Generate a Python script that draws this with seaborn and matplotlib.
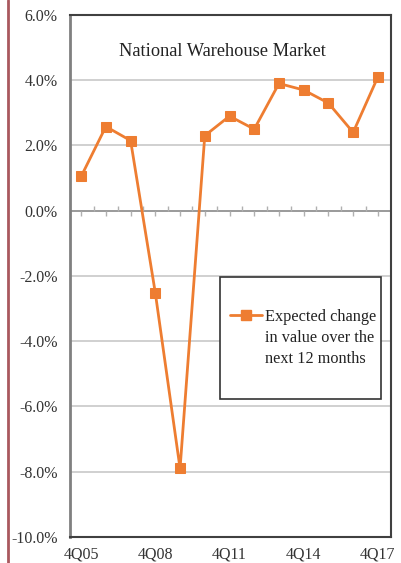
import numpy as np
import pandas as pd
import matplotlib
matplotlib.use("Agg")
import matplotlib.pyplot as plt
import seaborn as sns
from matplotlib.lines import Line2D
from matplotlib.patches import Rectangle

# data
quarters = ["4Q05", "4Q06", "4Q07", "4Q08", "4Q09", "4Q10", "4Q11",
            "4Q12", "4Q13", "4Q14", "4Q15", "4Q16", "4Q17"]
expected_change = [1.05, 2.58, 2.15, -2.52, -7.9, 2.3, 2.9,
                   2.5, 3.9, 3.7, 3.3, 2.4, 4.1]
label_every = 3
y_ticks = [6, 4, 2, 0, -2, -4, -6, -8, -10]
legend_lines = ["Expected change", "in value over the", "next 12 months"]

df = pd.DataFrame({"idx": np.arange(len(quarters)),
                   "quarter": quarters,
                   "value": expected_change})

sns.set_style("white")
plt.rcParams["font.family"] = ["Liberation Serif", "DejaVu Serif"]

orange = "#EE7D31"
fig = plt.figure(figsize=(4.01, 5.63), dpi=100)
ax = fig.add_axes([0.1746, 0.0462, 0.975 - 0.1746, 0.9734 - 0.0462])

# gridlines
for v in y_ticks:
    if v in (6, -10):
        continue
    ax.axhline(v, color="#9a9a9a" if v == 0 else "#c4c4c4",
               lw=1.4 if v == 0 else 1.1, zorder=1)

# tick marks on the zero line: down at points, up between them
n = len(quarters)
ax.vlines(np.arange(n), -0.16, 0, color="#b0b0b0", lw=1, zorder=1)
ax.vlines(np.arange(n - 1) + 0.5, 0, 0.16, color="#b0b0b0", lw=1, zorder=1)

sns.lineplot(data=df, x="idx", y="value", ax=ax, color=orange, lw=2,
             marker="s", markersize=6.8, markeredgecolor=orange,
             legend=False, zorder=3)

ax.set_xlim(-0.45, n - 1 + 0.53)
ax.set_ylim(-10, 6)
ax.set_yticks(y_ticks)
ax.set_yticklabels([f"{v:.1f}%" for v in y_ticks])
pos = list(range(0, n, label_every))
ax.set_xticks(pos)
ax.set_xticklabels([quarters[i] for i in pos])
ax.set_xlabel("")
ax.set_ylabel("")
ax.tick_params(axis="y", length=3, width=1, color="#808080", pad=6,
               labelsize=11.5, labelcolor="#333333")
ax.tick_params(axis="x", length=0, pad=7, labelsize=11.5, labelcolor="#333333")

ax.spines["left"].set_color("#808080")
ax.spines["left"].set_linewidth(2)
for s in ("top", "right", "bottom"):
    ax.spines[s].set_color("#404040")
    ax.spines[s].set_linewidth(1.5)

ax.text(0.475, 0.93, "National Warehouse Market", transform=ax.transAxes,
        ha="center", va="center", fontsize=13.2, color="#222222")

# legend: marker on the first line, the rest of the label below it
handles = [Line2D([], [], color=orange, lw=2, marker="s", markersize=6.8)]
handles += [Line2D([], [], color="none") for _ in legend_lines[1:]]
leg = ax.legend(handles, legend_lines, loc="center left",
                bbox_to_anchor=(0.498, 0.381), frameon=False,
                fontsize=11.7, handlelength=2.0, handletextpad=0.15,
                borderpad=0, borderaxespad=0, labelspacing=0.33)
for t in leg.get_texts():
    t.set_color("#222222")
ax.add_patch(Rectangle((0.467, 0.264), 0.969 - 0.467, 0.498 - 0.264,
                       transform=ax.transAxes, fill=True, facecolor="white",
                       edgecolor="#333333", lw=1.2, zorder=4))
leg.set_zorder(5)

# dark red rule along the left edge
fig.add_artist(Line2D([0.02, 0.02], [0, 1], color="#A9585E", lw=2,
                      transform=fig.transFigure))

fig.savefig("out.png", dpi=100)
